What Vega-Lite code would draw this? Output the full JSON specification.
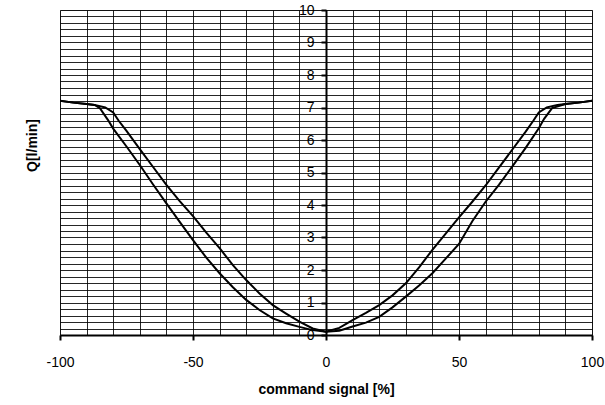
{
  "$schema": "https://vega.github.io/schema/vega-lite/v6.json",
  "width": 532,
  "height": 325,
  "autosize": {"type": "none"},
  "padding": {"left": 60, "top": 10, "right": 13, "bottom": 70},
  "background": "white",
  "config": {
    "font": "Liberation Sans",
    "view": {"stroke": "#808080", "strokeWidth": 1}
  },
  "data": {
    "values": [
      {"s": "a", "x": -100, "y": 7.21}, {"s": "a", "x": -95, "y": 7.15}, {"s": "a", "x": -90, "y": 7.11},
      {"s": "a", "x": -87, "y": 7.08}, {"s": "a", "x": -85, "y": 6.98}, {"s": "a", "x": -82, "y": 6.62},
      {"s": "a", "x": -80, "y": 6.35}, {"s": "a", "x": -75, "y": 5.8}, {"s": "a", "x": -70, "y": 5.23},
      {"s": "a", "x": -65, "y": 4.63}, {"s": "a", "x": -60, "y": 4.05}, {"s": "a", "x": -55, "y": 3.48},
      {"s": "a", "x": -50, "y": 2.92}, {"s": "a", "x": -45, "y": 2.38}, {"s": "a", "x": -40, "y": 1.9},
      {"s": "a", "x": -35, "y": 1.47}, {"s": "a", "x": -30, "y": 1.08}, {"s": "a", "x": -25, "y": 0.77},
      {"s": "a", "x": -20, "y": 0.51}, {"s": "a", "x": -15, "y": 0.36}, {"s": "a", "x": -10, "y": 0.25},
      {"s": "a", "x": -5, "y": 0.15}, {"s": "a", "x": 0, "y": 0.1}, {"s": "a", "x": 5, "y": 0.22},
      {"s": "a", "x": 10, "y": 0.46}, {"s": "a", "x": 15, "y": 0.68}, {"s": "a", "x": 20, "y": 0.92},
      {"s": "a", "x": 25, "y": 1.22}, {"s": "a", "x": 30, "y": 1.59}, {"s": "a", "x": 35, "y": 2.08},
      {"s": "a", "x": 40, "y": 2.62}, {"s": "a", "x": 45, "y": 3.12}, {"s": "a", "x": 50, "y": 3.62},
      {"s": "a", "x": 55, "y": 4.1}, {"s": "a", "x": 60, "y": 4.6}, {"s": "a", "x": 65, "y": 5.15},
      {"s": "a", "x": 70, "y": 5.7}, {"s": "a", "x": 75, "y": 6.25}, {"s": "a", "x": 78, "y": 6.6},
      {"s": "a", "x": 80, "y": 6.85}, {"s": "a", "x": 83, "y": 7.0}, {"s": "a", "x": 87, "y": 7.08},
      {"s": "a", "x": 90, "y": 7.11}, {"s": "a", "x": 95, "y": 7.15}, {"s": "a", "x": 100, "y": 7.21},
      {"s": "b", "x": -100, "y": 7.21}, {"s": "b", "x": -95, "y": 7.15}, {"s": "b", "x": -90, "y": 7.11},
      {"s": "b", "x": -87, "y": 7.08}, {"s": "b", "x": -83, "y": 7.0}, {"s": "b", "x": -80, "y": 6.85},
      {"s": "b", "x": -78, "y": 6.6}, {"s": "b", "x": -75, "y": 6.28}, {"s": "b", "x": -70, "y": 5.72},
      {"s": "b", "x": -65, "y": 5.17}, {"s": "b", "x": -60, "y": 4.62}, {"s": "b", "x": -55, "y": 4.12},
      {"s": "b", "x": -50, "y": 3.66}, {"s": "b", "x": -45, "y": 3.15}, {"s": "b", "x": -40, "y": 2.67},
      {"s": "b", "x": -35, "y": 2.15}, {"s": "b", "x": -30, "y": 1.69}, {"s": "b", "x": -25, "y": 1.28},
      {"s": "b", "x": -20, "y": 0.92}, {"s": "b", "x": -15, "y": 0.66}, {"s": "b", "x": -10, "y": 0.41},
      {"s": "b", "x": -5, "y": 0.2}, {"s": "b", "x": 0, "y": 0.1}, {"s": "b", "x": 5, "y": 0.13},
      {"s": "b", "x": 10, "y": 0.26}, {"s": "b", "x": 15, "y": 0.38}, {"s": "b", "x": 20, "y": 0.56},
      {"s": "b", "x": 25, "y": 0.85}, {"s": "b", "x": 30, "y": 1.18}, {"s": "b", "x": 35, "y": 1.52},
      {"s": "b", "x": 40, "y": 1.9}, {"s": "b", "x": 45, "y": 2.35}, {"s": "b", "x": 50, "y": 2.8},
      {"s": "b", "x": 55, "y": 3.5}, {"s": "b", "x": 60, "y": 4.1}, {"s": "b", "x": 65, "y": 4.62},
      {"s": "b", "x": 70, "y": 5.18}, {"s": "b", "x": 75, "y": 5.75}, {"s": "b", "x": 80, "y": 6.36},
      {"s": "b", "x": 82, "y": 6.65}, {"s": "b", "x": 85, "y": 6.98}, {"s": "b", "x": 90, "y": 7.11},
      {"s": "b", "x": 95, "y": 7.15}, {"s": "b", "x": 100, "y": 7.21}
    ]
  },
  "mark": {"type": "line", "color": "black", "strokeWidth": 2, "clip": true},
  "encoding": {
    "x": {
      "field": "x", "type": "quantitative",
      "scale": {"domain": [-100, 100], "nice": false, "zero": false},
      "axis": {
        "title": "command signal [%]",
        "titleFont": "Liberation Sans", "titleFontSize": 14, "titleFontWeight": "bold", "titleColor": "black",
        "titlePadding": 13,
        "values": [-100, -90, -80, -70, -60, -50, -40, -30, -20, -10, 0, 10, 20, 30, 40, 50, 60, 70, 80, 90, 100],
        "labelExpr": "datum.value % 50 === 0 ? (datum.value < 0 ? '-' + abs(datum.value) : '' + datum.value) : ''",
        "labelFontSize": 14, "labelColor": "black", "labelFlush": false, "labelPadding": 15,
        "labelOverlap": false,
        "domainColor": "black", "domainWidth": 2,
        "tickColor": "black", "tickWidth": 2, "tickSize": 5,
        "tickOpacity": {"condition": {"test": "datum.value % 50 === 0", "value": 1}, "value": 0},
        "grid": true, "gridColor": "black", "gridWidth": 1, "gridOpacity": 0.85
      }
    },
    "y": {
      "field": "y", "type": "quantitative",
      "scale": {"domain": [0, 10], "nice": false},
      "axis": {
        "title": "Q[l/min]",
        "titleFont": "Liberation Sans", "titleFontSize": 14, "titleFontWeight": "bold", "titleColor": "black",
        "titleX": -294, "titleY": 135, "titleAngle": -90, "titleAlign": "center", "titleBaseline": "middle",
        "offset": -266,
        "values": [0, 0.2, 0.4, 0.6, 0.8, 1, 1.2, 1.4, 1.6, 1.8, 2, 2.2, 2.4, 2.6, 2.8, 3, 3.2, 3.4, 3.6, 3.8, 4, 4.2, 4.4, 4.6, 4.8, 5, 5.2, 5.4, 5.6, 5.8, 6, 6.2, 6.4, 6.6, 6.8, 7, 7.2, 7.4, 7.6, 7.8, 8, 8.2, 8.4, 8.6, 8.8, 9, 9.2, 9.4, 9.6, 9.8, 10],
        "labelExpr": "abs(datum.value - round(datum.value)) < 0.01 ? format(datum.value, 'd') : ''",
        "labelFontSize": 14, "labelColor": "black", "labelFlush": false, "labelPadding": 7,
        "labelOverlap": false,
        "domainColor": "black", "domainWidth": 2,
        "tickColor": "black", "tickWidth": 2, "tickSize": 5,
        "tickOpacity": {"condition": {"test": "abs(datum.value - round(datum.value)) < 0.01", "value": 1}, "value": 0},
        "grid": true, "gridColor": "black", "gridWidth": 1, "gridOpacity": 0.85
      }
    },
    "detail": {"field": "s", "type": "nominal"}
  }
}
